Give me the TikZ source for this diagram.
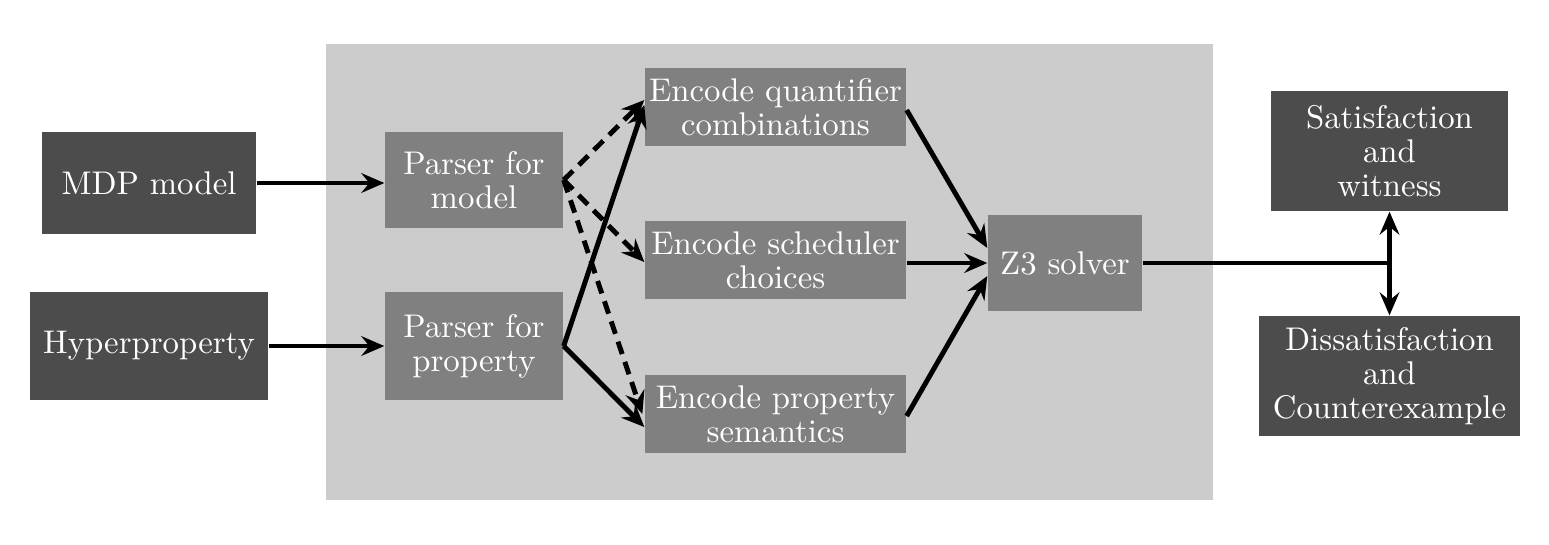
\documentclass[tikz,border=0pt]{standalone}
\usetikzlibrary{arrows.meta,calc}
\begin{document}
\begin{tikzpicture}[x=0.305pt,y=-0.305pt,
  >={Stealth[length=7pt,width=6pt,inset=2.4pt]},
  box/.style={inner sep=0pt,align=center,text=white,font=\fontsize{10pt}{10.4pt}\selectfont},
  outer/.style={box,fill=black!70},
  inner/.style={box,fill=black!50},
  conn/.style={line width=1.5pt,->},
  dconn/.style={line width=1.5pt,->,dash pattern=on 4pt off 2.5pt}]
\useasboundingbox (0,0) rectangle (1549,544);
\node[fill=black!20,inner sep=0pt,minimum width=270.5pt,minimum height=139.1pt] (bg) at (769.5,272) {};
\node[outer,minimum width=65.3pt,minimum height=31.1pt] (mdp) at (149,183) {MDP model};
\node[outer,minimum width=72.6pt,minimum height=32.9pt] (hyp) at (149,346) {Hyperproperty};
\node[inner,minimum width=54.3pt,minimum height=29.3pt] (pm) at (474,180) {Parser for\\model};
\node[inner,minimum width=54.3pt,minimum height=32.9pt] (pp) at (474,346) {Parser for\\property};
\node[inner,minimum width=79.6pt,minimum height=23.8pt] (eq) at (775.5,107) {Encode quantifier\\combinations};
\node[inner,minimum width=79.6pt,minimum height=23.8pt] (es) at (775.5,260) {Encode scheduler\\choices};
\node[inner,minimum width=79.6pt,minimum height=23.8pt] (ep) at (775.5,414) {Encode property\\semantics};
\node[inner,minimum width=47pt,minimum height=29.3pt] (z3) at (1065,263) {Z3 solver};
\node[outer,minimum width=72.3pt,minimum height=36.6pt] (sat) at (1389.5,151) {Satisfaction\\and\\witness};
\node[outer,minimum width=79.6pt,minimum height=36.6pt] (dis) at (1389.5,376) {Dissatisfaction\\and\\Counterexample};
\coordinate (fork) at (1389.5,263);
\draw[conn] (mdp.east) -- (pm.west |- mdp.east);
\draw[conn] (hyp.east) -- (pp.west);
\draw[dconn] (pm.east) -- ($(eq.west)+(0,-7)$);
\draw[dconn] (pm.east) -- ($(es.west)+(0,2)$);
\draw[dconn] (pm.east) -- ($(ep.west)+(-2,0)$);
\draw[conn] (pp.east) -- ($(eq.west)+(0,-2)$);
\draw[conn] (pp.east) -- ($(ep.west)+(0,13)$);
\draw[conn] ($(eq.east)+(0,3)$) -- ($(z3.west)+(0,-15)$);
\draw[conn] ($(es.east)+(0,3)$) -- (z3.west);
\draw[conn] ($(ep.east)+(0,2)$) -- ($(z3.west)+(0,13)$);
\draw[line width=1.5pt] (z3.east) -- (fork);
\draw[conn] (fork) -- (sat.south);
\draw[conn] (fork) -- (dis.north);
\end{tikzpicture}
\end{document}
